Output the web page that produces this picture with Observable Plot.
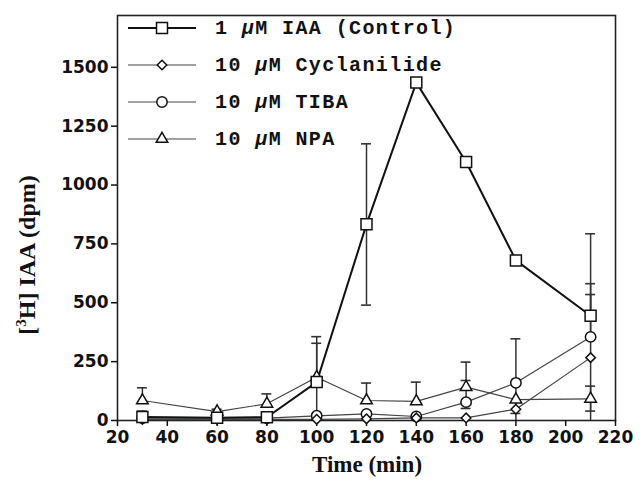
<!DOCTYPE html>
<html>
<head>
<meta charset="utf-8">
<script src="https://cdn.jsdelivr.net/npm/d3@7"></script>
<script src="https://cdn.jsdelivr.net/npm/@observablehq/plot@0.6"></script>
<style>
  body { margin: 0; background: #fff; }
  #wrap { position: relative; width: 642px; height: 480px; }
  #wrap svg.over { position: absolute; left: 0; top: 0; pointer-events: none; }
</style>
</head>
<body>
<div id="wrap"></div>
<script>
// ---- data ----
const times = [30, 60, 80, 100, 120, 140, 160, 180, 210];
const xTicks = [20, 40, 60, 80, 100, 120, 140, 160, 180, 200, 220];
const yTicks = [0, 250, 500, 750, 1000, 1250, 1500];
const seriesNames = ["1 μM IAA (Control)", "10 μM Cyclanilide", "10 μM TIBA", "10 μM NPA"];

const controlMean = [15, 12, 14, 163, 833, 1435, 1098, 680, 445];
const controlHi   = [40, null, null, 356, 1175, null, null, null, 793];
const controlLo   = [null, null, null, 0, 490, null, null, null, null];

const cycMean = [5, 5, 5, 5, 7, 11, 11, 48, 267];
const cycHi   = [null, null, null, null, null, null, null, null, 535];
const cycLo   = [null, null, null, null, null, null, null, 30, 0];

const tibaMean = [10, 10, 10, 20, 28, 17, 78, 160, 355];
const tibaHi   = [null, null, null, null, null, null, 170, 347, 581];
const tibaLo   = [null, null, null, null, null, null, 51, 0, null];

const npaMean = [85, 38, 71, 184, 85, 81, 142, 89, 92];
const npaHi   = [139, 48, 113, 328, 159, 163, 248, null, 146];
const npaLo   = [null, null, null, null, null, null, null, null, 40];

// ---- build table ----
const seriesDefs = [
  {name: seriesNames[3], mean: npaMean, hi: npaHi, lo: npaLo, symbol: "triangle", r: 4.3, sw: 1.2, stroke: "#444"},
  {name: seriesNames[2], mean: tibaMean, hi: tibaHi, lo: tibaLo, symbol: "circle", r: 5.2, sw: 1.2, stroke: "#444"},
  {name: seriesNames[1], mean: cycMean, hi: cycHi, lo: cycLo, symbol: "diamond2", r: 4.3, sw: 1.2, stroke: "#444"},
  {name: seriesNames[0], mean: controlMean, hi: controlHi, lo: controlLo, symbol: "square", r: 6.2, sw: 2, stroke: "#111"}
];
const rows = [];
for (const s of seriesDefs) {
  times.forEach((t, i) => rows.push({series: s.name, t, mean: s.mean[i], hi: s.hi[i], lo: s.lo[i]}));
}
const errRows = rows.filter(d => d.hi != null || d.lo != null);
const capRows = [];
for (const d of errRows) {
  if (d.hi != null) capRows.push({t: d.t, v: d.hi});
  if (d.lo != null && d.lo > 0) capRows.push({t: d.t, v: d.lo});
}

const marks = [
  Plot.frame({stroke: "#222", strokeWidth: 1.6}),
  Plot.axisX({ticks: xTicks, tickFormat: d3.format("d"), tickSize: 6, tickPadding: 4, label: null, strokeWidth: 1.5,
              fontSize: 17, fontWeight: "bold", fontFamily: "DejaVu Sans", fill: "#111"}),
  Plot.axisY({ticks: yTicks, tickFormat: d3.format("d"), tickSize: 6, tickPadding: 3, label: null, strokeWidth: 1.5,
              fontSize: 17, fontWeight: "bold", fontFamily: "DejaVu Sans", fill: "#111"})
];
// lines
for (const s of seriesDefs) {
  marks.push(Plot.line(rows.filter(d => d.series === s.name),
    {x: "t", y: "mean", stroke: s.stroke, strokeWidth: s.sw}));
}
// error bars
marks.push(Plot.ruleX(errRows, {x: "t", y1: d => d.lo ?? d.mean, y2: d => d.hi ?? d.mean,
  stroke: "#333", strokeWidth: 1.5}));
marks.push(Plot.ruleY(capRows, {y: "v", x1: d => d.t - 2, x2: d => d.t + 2, stroke: "#333", strokeWidth: 1.6}));
// markers
for (const s of seriesDefs) {
  marks.push(Plot.dot(rows.filter(d => d.series === s.name),
    {x: "t", y: "mean", symbol: () => s.symbol, r: s.r, fill: "white", stroke: "#111", strokeWidth: 1.5}));
}

const chart = Plot.plot({
  width: 642, height: 480,
  marginLeft: 117, marginRight: 27, marginTop: 15, marginBottom: 60,
  x: {domain: [20, 220]},
  y: {domain: [0, 1720]},
  symbol: {type: "identity"},
  style: {fontFamily: "DejaVu Sans", background: "white", color: "#111"},
  marks
});
document.getElementById("wrap").appendChild(chart);

// ---- overlay: legend + axis titles ----
const over = d3.select("#wrap").append("svg").attr("class", "over")
  .attr("width", 642).attr("height", 480);

const legendY = [28, 65, 102, 139];
const legendOrder = [3, 2, 1, 0]; // control, cyclanilide, tiba, npa
const symMap = {square: d3.symbolSquare, diamond2: d3.symbolDiamond2, circle: d3.symbolCircle, triangle: d3.symbolTriangle};
legendOrder.forEach((si, k) => {
  const s = seriesDefs[si];
  const y = legendY[k];
  const g = over.append("g");
  g.append("line").attr("x1", 128).attr("x2", 196).attr("y1", y).attr("y2", y)
    .attr("stroke", s.stroke).attr("stroke-width", s.sw);
  g.append("path").attr("d", d3.symbol(symMap[s.symbol], Math.PI * s.r * s.r)())
    .attr("transform", `translate(162,${y})`)
    .attr("fill", "white").attr("stroke", "#111").attr("stroke-width", 1.5);
  const parts = s.name.split("μ");
  const tx = g.append("text").attr("x", 215).attr("y", y + 6)
    .attr("font-family", "Liberation Mono, Courier New, monospace").attr("font-weight", "bold")
    .attr("font-size", 20).attr("letter-spacing", 1.4).attr("fill", "#111");
  tx.append("tspan").text(parts[0]);
  tx.append("tspan").attr("font-style", "italic").text("μ");
  tx.append("tspan").text(parts[1]);
});

over.append("text").attr("x", 367).attr("y", 472).attr("text-anchor", "middle")
  .attr("font-family", "Liberation Serif, Times New Roman, serif").attr("font-weight", "bold")
  .attr("font-size", 23).attr("fill", "#111").text("Time (min)");

const yt = over.append("text").attr("transform", "translate(35,255) rotate(-90)")
  .attr("text-anchor", "middle")
  .attr("font-family", "Liberation Serif, Times New Roman, serif").attr("font-weight", "bold")
  .attr("font-size", 24).attr("fill", "#111");
yt.append("tspan").text("[");
yt.append("tspan").attr("font-size", 15).attr("dy", -9).text("3");
yt.append("tspan").attr("dy", 9).text("H] IAA (dpm)");
</script>
</body>
</html>
